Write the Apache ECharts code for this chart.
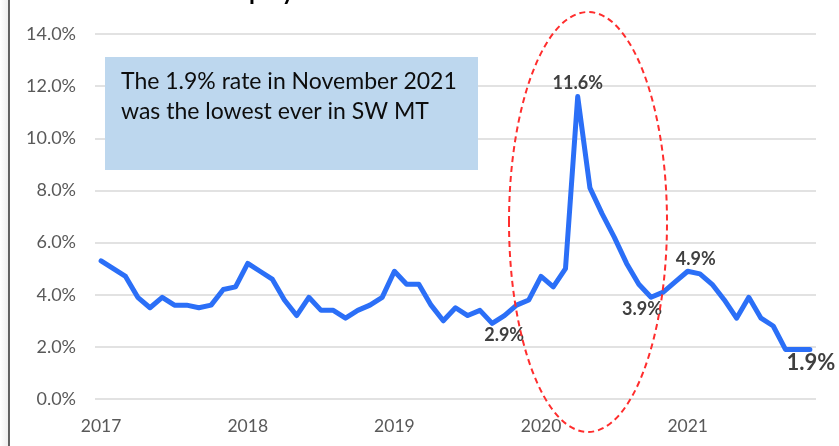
<!DOCTYPE html>
<html>
<head>
<meta charset="utf-8">
<script src="https://cdn.jsdelivr.net/npm/echarts@6/dist/echarts.min.js"></script>
<style>
  html, body { margin: 0; padding: 0; background: #fff; }
  #chart { width: 839px; height: 446px; }
</style>
</head>
<body>
<div id="chart"></div>
<script>
// monthly unemployment rate, Jan 2017 .. Nov 2021
const years = ['2017', '2018', '2019', '2020', '2021'];
const rates = [
  5.3, 5.0, 4.7, 3.9, 3.5, 3.9, 3.6, 3.6, 3.5, 3.6, 4.2, 4.3,   // 2017
  5.2, 4.9, 4.6, 3.8, 3.2, 3.9, 3.4, 3.4, 3.1, 3.4, 3.6, 3.9,   // 2018
  4.9, 4.4, 4.4, 3.6, 3.0, 3.5, 3.2, 3.4, 2.9, 3.2, 3.6, 3.8,   // 2019
  4.7, 4.3, 5.0, 11.6, 8.1, 7.1, 6.2, 5.2, 4.4, 3.9, 4.1, 4.5,  // 2020
  4.9, 4.8, 4.4, 3.8, 3.1, 3.9, 3.1, 2.8, 1.9, 1.9, 1.9         // 2021
];
const yTicks = [0, 2, 4, 6, 8, 10, 12, 14];
const noteLines = ['The 1.9% rate in November 2021', 'was the lowest ever in SW MT'];

// category labels: one per month
const months = [];
years.forEach(y => {
  for (let m = 1; m <= 12; m++) months.push(y + '-' + (m < 10 ? '0' + m : m));
});
const categories = months.slice(0, rates.length);

// which points get a value label, and where it sits
const labelStyle = {
  32: { position: 'bottom', distance: 2, offset: [12, 0] },
  39: { position: 'top', distance: 4, offset: [0, 0] },
  45: { position: 'bottom', distance: 2, offset: [-9, 0] },
  48: { position: 'top', distance: 3, offset: [8, 0] },
  58: { position: 'bottom', distance: 2, offset: [1, 0], fontSize: 22 }
};

const seriesData = rates.map((v, i) => {
  const ls = labelStyle[i];
  if (!ls) return v;
  return {
    value: v,
    symbol: 'circle',
    symbolSize: 1,
    label: {
      show: true,
      position: ls.position,
      distance: ls.distance,
      offset: ls.offset,
      fontSize: ls.fontSize || 18,
      fontWeight: 'bold',
      color: '#3f3f3f',
      fontFamily: 'Lato',
      formatter: p => p.value.toFixed(1) + '%'
    }
  };
});

const chart = echarts.init(document.getElementById('chart'));

const option = {
  animation: false,
  grid: { left: 95, right: 23, top: 34, bottom: 47 },
  xAxis: {
    type: 'category',
    data: categories,
    boundaryGap: true,
    axisLine: { show: false },
    axisTick: { show: false },
    axisLabel: {
      interval: i => i % 12 === 0,
      formatter: v => v.slice(0, 4),
      color: '#595959',
      fontFamily: 'Lato',
      fontSize: 17.5,
      margin: 18
    }
  },
  yAxis: {
    type: 'value',
    min: yTicks[0],
    max: yTicks[yTicks.length - 1],
    interval: yTicks[1] - yTicks[0],
    axisLine: { show: false },
    axisTick: { show: false },
    splitLine: { lineStyle: { color: '#d9d9d9', width: 1.5 } },
    axisLabel: {
      formatter: v => v.toFixed(1) + '%',
      color: '#595959',
      fontFamily: 'Lato',
      fontSize: 18,
      margin: 19
    }
  },
  series: [{
    type: 'line',
    data: seriesData,
    symbol: 'none',
    smooth: false,
    itemStyle: { color: '#2b6ff7' },
    lineStyle: { color: '#2b6ff7', width: 5, cap: 'round', join: 'round' },
    z: 3
  }],
  graphic: [
    // left page edge
    {
      type: 'rect',
      shape: { x: 0, y: 0, width: 9, height: 446 },
      style: {
        fill: new echarts.graphic.LinearGradient(0, 0, 1, 0, [
          { offset: 0, color: '#ffffff' },
          { offset: 1, color: '#ececec' }
        ])
      }
    },
    {
      type: 'line',
      shape: { x1: 9, y1: 0, x2: 9, y2: 446 },
      style: { stroke: '#303030', lineWidth: 1.5 }
    },
    // title, mostly cut off above the picture
    {
      type: 'text',
      left: 98,
      top: -20,
      style: {
        text: 'SW MT Unemployment',
        font: 'bold 24px Lato',
        fill: '#000'
      }
    },
    // note box
    {
      type: 'rect',
      shape: { x: 105, y: 57, width: 373, height: 113 },
      style: { fill: '#bdd7ee' },
      z: 1
    },
    {
      type: 'text',
      x: 121,
      y: 67,
      style: {
        text: noteLines.join('\n'),
        font: '23px Lato',
        lineHeight: 30,
        fill: '#0d0d0d'
      },
      z: 2
    },
    // dashed highlight around the 2020 spike
    {
      type: 'ellipse',
      shape: { cx: 588, cy: 222, rx: 79, ry: 210 },
      style: { fill: null, stroke: '#ff2d2d', lineWidth: 2, lineDash: [6, 4] },
      z: 10
    }
  ]
};

chart.setOption(option);
</script>
</body>
</html>
